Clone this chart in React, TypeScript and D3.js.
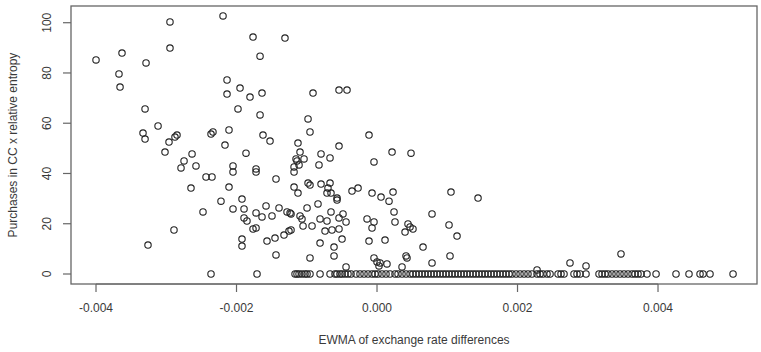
import React from "react";
import { scaleLinear } from "d3";

const width = 761;
const height = 352;

// plot box (R base graphics style)
const boxLeft = 71;
const boxRight = 757;
const boxTop = 6;
const boxBottom = 284;

const xTicks = [-0.004, -0.002, 0, 0.002, 0.004];
const xTickLabels = ["-0.004", "-0.002", "0.000", "0.002", "0.004"];
const yTicks = [0, 20, 40, 60, 80, 100];
const yTickLabels = ["0", "20", "40", "60", "80", "100"];

// points with purchases > 0
const ewma = [
  -0.004, -0.00363, -0.003673, -0.003658, -0.003288, -0.002947, -0.002947, -0.002192,
  -0.001765, -0.00131, -0.001665, -0.002135, -0.00195, -0.002135, -0.001808, -0.001637,
  -0.003302, -0.001979, -0.001665, -0.003117, -0.003331, -0.003302, -0.002847, -0.002876,
  -0.002961, -0.002335, -0.002363, -0.002107, -0.001623, -0.001523, -0.002164, -0.001125,
  -0.003018, -0.002633, -0.002747, -0.00279, -0.002577, -0.001865, -0.00205, -0.00205,
  -0.001722, -0.001722, -0.002434, -0.002349, -0.002648, -0.002107, -0.001438, -0.001181,
  -0.001139, -0.001181, -0.001181, -0.001125, -0.002221, -0.001922, -0.002477, -0.00205,
  -0.001893, -0.00158, -0.001395, -0.001722, -0.001637, -0.001495, -0.001281, -0.001224,
  -0.001893, -0.001851, -0.001765, -0.001722, -0.001324, -0.001253, -0.001224, -0.001452,
  -0.001566, -0.001922, -0.001922, -0.00289, -0.00326, -0.001438, -0.000911, -0.000541,
  -0.000427, -0.000982, -0.000954, -0.000114, -0.000541, 0.000214, 0.000484, -0.000043,
  -0.001096, -0.000797, -0.000669, -0.001153, -0.001039, -0.00111, -0.000826, 0.001053,
  0.001438, -0.000982, -0.000954, -0.000797, -0.000669, -0.000698, -0.000655, -0.000712,
  -0.000569, -0.000569, -0.000356, -0.00027, -0.000071, 0.000057, 0.000171, 0.000228,
  -0.00084, -0.000996, -0.001238, -0.001096, -0.001068, -0.000655, -0.000484, -0.000541,
  -0.000441, -0.000811, -0.000712, -0.001053, -0.000925, -0.00074, -0.000641, -0.000541,
  -0.000142, -0.000043, -0.000071, 0.000242, 0.000256, 0.000441, 0.00047, 0.000512,
  0.000399, 0.000783, 0.001025, 0.001139, -0.000811, -0.000498, -0.000612, -0.000114,
  0.000114, 0.000655, -0.000612, -0.000954, -0.000043, 0.0, 0.000028, 0.000413,
  0.000427, 0.000142, 0.000356, 0.000783, 0.001039, -0.000441, 0.000043, 0.002278,
  0.002747, 0.002975, 0.003473,
];
const purchases = [
  85.2, 87.9, 79.6, 74.4, 84.0, 100.3, 89.9, 102.7,
  94.3, 93.9, 86.7, 77.2, 74.0, 71.6, 70.4, 72.0,
  65.7, 65.7, 63.3, 58.9, 56.1, 53.7, 55.3, 54.5,
  52.5, 56.5, 55.7, 57.3, 55.3, 52.9, 51.3, 52.1,
  48.5, 47.8, 45.0, 42.2, 43.0, 48.1, 43.0, 40.6,
  41.8, 40.6, 38.6, 38.6, 34.2, 34.6, 37.8, 42.6,
  45.0, 40.6, 34.6, 32.2, 29.0, 29.8, 24.7, 25.9,
  25.9, 27.1, 26.3, 24.3, 22.7, 23.1, 24.7, 23.9,
  22.3, 21.1, 17.9, 18.3, 15.5, 17.1, 17.5, 14.3,
  13.1, 13.9, 11.1, 17.5, 11.5, 7.6, 72.0, 73.2,
  73.2, 61.7, 56.5, 55.3, 50.9, 48.5, 48.1, 44.6,
  48.5, 47.8, 46.2, 45.8, 45.8, 43.4, 43.4, 32.6,
  30.2, 36.2, 35.4, 35.8, 36.2, 34.2, 32.2, 32.2,
  30.2, 29.4, 33.0, 34.2, 32.2, 30.6, 29.0, 32.6,
  27.9, 26.3, 24.3, 23.1, 21.9, 24.7, 23.9, 22.3,
  20.7, 21.9, 21.1, 19.1, 19.1, 17.1, 17.5, 17.9,
  21.9, 20.7, 18.3, 24.7, 20.7, 19.9, 18.7, 17.9,
  16.7, 23.9, 19.5, 15.1, 12.3, 13.9, 10.7, 13.1,
  13.5, 10.7, 7.2, 6.4, 6.4, 4.8, 3.2, 7.2,
  6.4, 4.0, 2.8, 4.4, 7.2, 2.8, 4.4, 1.6,
  4.4, 3.2, 8.0,
];

// points with purchases == 0
const ewmaAtZero = [
  -0.002363, -0.001708, -0.001167, -0.001139, -0.00111, -0.001068, -0.001025, -0.000996,
  -0.000954, -0.000811, -0.000669, -0.000598, -0.000569, -0.000527, -0.000498, -0.000456,
  -0.000413, -0.00037, -0.000299, -0.000242, -0.000185, -0.000128, -0.000071, -0.000028,
  0.000014, 0.000071, 0.000128, 0.000185, 0.000256, 0.000299, 0.000356, 0.000413,
  0.00047, 0.000512, 0.000555, 0.000598, 0.000641, 0.000683, 0.000726, 0.000769,
  0.000811, 0.000854, 0.000897, 0.00094, 0.000982, 0.001025, 0.001068, 0.00111,
  0.001153, 0.001196, 0.001238, 0.001281, 0.001324, 0.001367, 0.001409, 0.001452,
  0.001495, 0.001537, 0.00158, 0.001623, 0.001665, 0.001708, 0.001751, 0.001794,
  0.001836, 0.001879, 0.001922, 0.001979, 0.002036, 0.002093, 0.002149, 0.002206,
  0.002278, 0.00232, 0.002363, 0.00242, 0.002463, 0.002577, 0.002619, 0.002662,
  0.002804, 0.002847, 0.00289, 0.002975, 0.00316, 0.003203, 0.003246, 0.003288,
  0.003345, 0.003402, 0.003459, 0.003516, 0.003573, 0.00363, 0.003673, 0.003715,
  0.003758, 0.003843, 0.003972, 0.004256, 0.004441, 0.004598, 0.004641, 0.00474,
  0.005068,
];

const font = "'Liberation Sans', Arial, Helvetica, sans-serif";
const textColor = "#3a3a3a";
const axisColor = "#666";

const x = scaleLinear().domain([-0.004356, 0.005409]).range([boxLeft, boxRight]);
const y = scaleLinear().domain([-3.98, 106.65]).range([boxBottom, boxTop]);

export default function App() {
  const points = [
    ...ewma.map((e, i) => [e, purchases[i]]),
    ...ewmaAtZero.map((e) => [e, 0]),
  ];

  return (
    <svg
      width={width}
      height={height}
      style={{ position: "absolute", left: 0, top: 0, background: "white" }}
      fontFamily={font}
    >
      {/* box */}
      <rect
        x={boxLeft}
        y={boxTop}
        width={boxRight - boxLeft}
        height={boxBottom - boxTop}
        fill="none"
        stroke={axisColor}
        strokeWidth={1.3}
      />

      {/* x axis */}
      <line
        x1={x(xTicks[0])}
        x2={x(xTicks[xTicks.length - 1])}
        y1={boxBottom}
        y2={boxBottom}
        stroke={axisColor}
      />
      {xTicks.map((t, i) => (
        <g key={"xt" + i}>
          <line x1={x(t)} x2={x(t)} y1={boxBottom} y2={boxBottom + 8} stroke={axisColor} strokeWidth={1.2} />
          <text x={x(t)} y={312} textAnchor="middle" fontSize={12} fill={textColor}>
            {xTickLabels[i]}
          </text>
        </g>
      ))}

      {/* y axis */}
      {yTicks.map((t, i) => (
        <g key={"yt" + i}>
          <line x1={boxLeft - 8} x2={boxLeft} y1={y(t)} y2={y(t)} stroke={axisColor} strokeWidth={1.2} />
          <text
            transform={`translate(51,${y(t)}) rotate(-90)`}
            textAnchor="middle"
            fontSize={12}
            fill={textColor}
          >
            {yTickLabels[i]}
          </text>
        </g>
      ))}

      {/* axis titles */}
      <text
        x={(boxLeft + boxRight) / 2}
        y={344}
        textAnchor="middle"
        fontSize={12}
        fill={textColor}
      >
        EWMA of exchange rate differences
      </text>
      <text
        transform={`translate(17,${(boxTop + boxBottom) / 2}) rotate(-90)`}
        textAnchor="middle"
        fontSize={12}
        fill={textColor}
      >
        Purchases in CC x relative entropy
      </text>

      {/* points */}
      {points.map((p, i) => (
        <circle
          key={i}
          cx={x(p[0])}
          cy={y(p[1])}
          r={3.2}
          fill="none"
          stroke="#222"
          strokeWidth={1.1}
        />
      ))}
    </svg>
  );
}
